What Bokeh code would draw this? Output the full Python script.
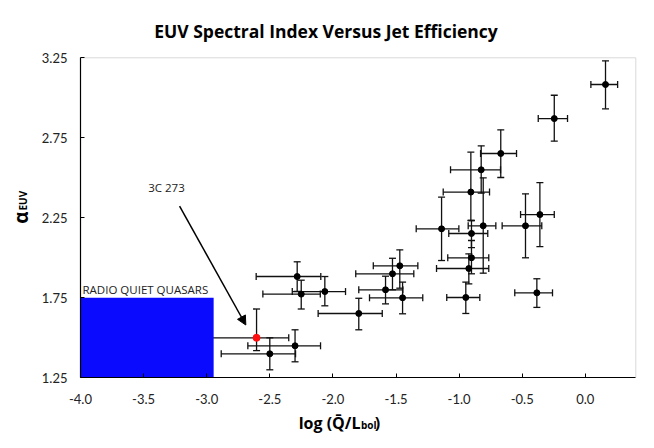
from bokeh.plotting import figure
from bokeh.models import (ColumnDataSource, Whisker, TeeHead, Label, Arrow, NormalHead,
                          FixedTicker, Range1d, LinearAxis)
from bokeh.embed import file_html
from bokeh.resources import INLINE
import math

# ---------------- data ----------------
x_vals = [-2.50, -2.30, -2.283, -2.251, -2.064, -1.795, -1.583, -1.528, -1.47, -1.448,
          -1.139, -0.947, -0.923, -0.902, -0.902, -0.907, -0.809, -0.825, -0.67, -0.474,
          -0.36, -0.384, -0.246, 0.16]
y_vals = [1.40, 1.45, 1.883, 1.773, 1.789, 1.652, 1.80, 1.90, 1.95, 1.75,
          2.181, 1.752, 1.933, 2.00, 2.152, 2.411, 2.20, 2.55, 2.652, 2.20,
          2.27, 1.781, 2.87, 3.083]
x_lo = [-2.885, -2.674, -2.608, -2.555, -2.322, -2.117, -1.795, -1.819, -1.68, -1.71,
        -1.34, -1.098, -1.179, -1.09, -1.082, -1.126, -0.928, -1.068, -0.83, -0.659,
        -0.513, -0.559, -0.373, 0.044]
x_hi = [-2.296, -2.098, -2.096, -2.10, -1.90, -1.609, -1.446, -1.359, -1.327, -1.288,
        -1.002, -0.836, -0.765, -0.765, -0.773, -0.759, -0.709, -0.672, -0.545, -0.345,
        -0.246, -0.26, -0.141, 0.256]
y_lo = [1.30, 1.35, 1.79, 1.68, 1.70, 1.55, 1.712, 1.80, 1.81, 1.65,
        1.983, 1.652, 1.837, 1.90, 2.063, 2.233, 1.904, 2.404, 2.502, 2.00,
        2.07, 1.69, 2.729, 2.931]
y_hi = [1.50, 1.55, 1.975, 1.86, 1.883, 1.747, 1.885, 1.997, 2.05, 1.848,
        2.379, 1.848, 2.025, 2.108, 2.233, 2.66, 2.50, 2.70, 2.80, 2.40,
        2.47, 1.869, 3.016, 3.231]

# 3C 273 (highlighted point)
red_x = [-2.605]
red_y = [1.50]
red_x_lo = [-3.1]
red_x_hi = [-2.35]
red_y_lo = [1.42]
red_y_hi = [1.68]

# radio quiet quasar region
box_left = [-4.0]
box_right = [-2.945]
box_bottom = [1.25]
box_top = [1.75]

x_ticks = [-4.0, -3.5, -3.0, -2.5, -2.0, -1.5, -1.0, -0.5, 0.0]
x_tick_labels = ["-4.0", "-3.5", "-3.0", "-2.5", "-2.0", "-1.5", "-1.0", "-0.5", "0.0"]
y_ticks = [1.25, 1.75, 2.25, 2.75, 3.25]
y_tick_labels = ["1.25", "1.75", "2.25", "2.75", "3.25"]

title_text = "EUV Spectral Index Versus Jet Efficiency"
box_label = "RADIO QUIET QUASARS"
arrow_label = "3C 273"
arrow_start = (-3.215, 2.323)
arrow_end = (-2.69, 1.58)

FONT = "Open Sans"
TICK_FONT = "Lato"
FIX = 6   # baseline correction, px

# ---------------- geometry ----------------
XMIN, XMAX, YMIN, YMAX = -4.0, 0.4, 1.25, 3.25   # axis extents
W, H = 654, 448
AX_LEFT, AX_RIGHT, AX_TOP, AX_BOTTOM = 80.0, 635.3, 57.3, 377.3   # pixel edges of the plot area
SX = (AX_RIGHT - AX_LEFT) / (XMAX - XMIN)
SY = (AX_BOTTOM - AX_TOP) / (YMAX - YMIN)
X0 = XMIN - AX_LEFT / SX
X1 = XMAX + (W - AX_RIGHT) / SX
Y1 = YMAX + AX_TOP / SY
Y0 = YMIN - (H - AX_BOTTOM) / SY


def px_to_x(px):
    return X0 + px / SX


def py_to_y(py):
    return Y1 - py / SY


p = figure(width=W, height=H, x_range=Range1d(X0, X1), y_range=Range1d(Y0, Y1),
           output_backend="svg", toolbar_location=None,
           x_axis_location=None, y_axis_location=None,
           min_border_left=0, min_border_right=0, min_border_top=0, min_border_bottom=0)
p.title.visible = False
p.grid.visible = False
p.outline_line_color = None
p.background_fill_color = "white"
p.border_fill_color = "white"

xaxis = LinearAxis(fixed_location=YMIN, bounds=(XMIN, XMAX))
yaxis = LinearAxis(fixed_location=XMIN, bounds=(YMIN, YMAX))
p.add_layout(xaxis, "below")
p.add_layout(yaxis, "left")

for ax, ticks, labels in ((xaxis, x_ticks, x_tick_labels), (yaxis, y_ticks, y_tick_labels)):
    ax.ticker = FixedTicker(ticks=ticks)
    ax.major_label_overrides = {t: l for t, l in zip(ticks, labels)}
    ax.minor_tick_line_color = None
    ax.major_tick_in = 4
    ax.major_tick_out = 0
    ax.axis_line_color = "black"
    ax.axis_line_width = 1.2
    ax.major_tick_line_color = "black"
    ax.major_label_text_font = TICK_FONT
    ax.major_label_text_font_size = "13px"
    ax.major_label_text_color = "#222222"
xaxis.major_label_standoff = 16
yaxis.major_label_standoff = 13

# light border on top and right of the plot area
p.segment(x0=[XMIN, XMAX], y0=[YMAX, YMAX], x1=[XMAX, XMAX], y1=[YMAX, YMIN],
          line_color="#d9d9d9", line_width=1)

# ---------------- error bars ----------------
src = ColumnDataSource(dict(x=x_vals, y=y_vals, xlo=x_lo, xhi=x_hi, ylo=y_lo, yhi=y_hi))
rsrc = ColumnDataSource(dict(x=red_x, y=red_y, xlo=red_x_lo, xhi=red_x_hi, ylo=red_y_lo, yhi=red_y_hi))


def whiskers(s):
    col = "#111111"
    for dim, base, lo, hi in (("width", "y", "xlo", "xhi"), ("height", "x", "ylo", "yhi")):
        w = Whisker(source=s, base=base, lower=lo, upper=hi, dimension=dim,
                    line_color=col, line_width=1.3,
                    upper_head=TeeHead(size=7, line_color=col, line_width=1.3),
                    lower_head=TeeHead(size=7, line_color=col, line_width=1.3))
        w.level = "underlay"
        p.add_layout(w)


whiskers(rsrc)
whiskers(src)

# blue region
p.quad(left=box_left, right=box_right, bottom=box_bottom, top=box_top,
       fill_color="#0a0aff", line_color=None)

# points
p.scatter("x", "y", source=src, size=6, color="black")
p.scatter("x", "y", source=rsrc, size=7, color="#ff1010")


# ---------------- annotations ----------------
def text(px, py, s, size, bold=False, align="left", color="black", angle=0.0, font=FONT):
    if angle:
        xo, yo = -FIX, 0
    else:
        xo, yo = 0, FIX
    p.add_layout(Label(x=px_to_x(px), y=py_to_y(py), x_offset=xo, y_offset=yo, text=s,
                       angle=angle, text_font=font, text_font_size=size,
                       text_font_style="bold" if bold else "normal", text_color=color,
                       text_baseline="alphabetic", text_align=align))


text(82, 294.5, box_label, "11.5px", color="#222222")
text(166, 192.7, arrow_label, "11.5px", align="center", color="#222222")
p.add_layout(Arrow(x_start=arrow_start[0], y_start=arrow_start[1],
                   x_end=arrow_end[0], y_end=arrow_end[1], line_width=1.5, line_color="black",
                   end=NormalHead(size=9, fill_color="black", line_color="black")))

# title
text(325.5, 36.5, title_text, "17.5px", bold=True, align="center")

# x axis label: log (Q̄/L_bol)
text(360, 428.3, "log (Q\u0304/L", "16px", bold=True, align="right")
text(360.5, 430.5, "bol", "10px", bold=True)
text(374.3, 428.3, ")", "16px", bold=True)

# y axis label: alpha_EUV
text(26.7, 223.3, "\u03b1", "19px", bold=True, angle=math.pi / 2)
text(28, 210, "EUV", "10px", bold=True, angle=math.pi / 2)

open("out.html", "w").write(file_html(p, INLINE))
